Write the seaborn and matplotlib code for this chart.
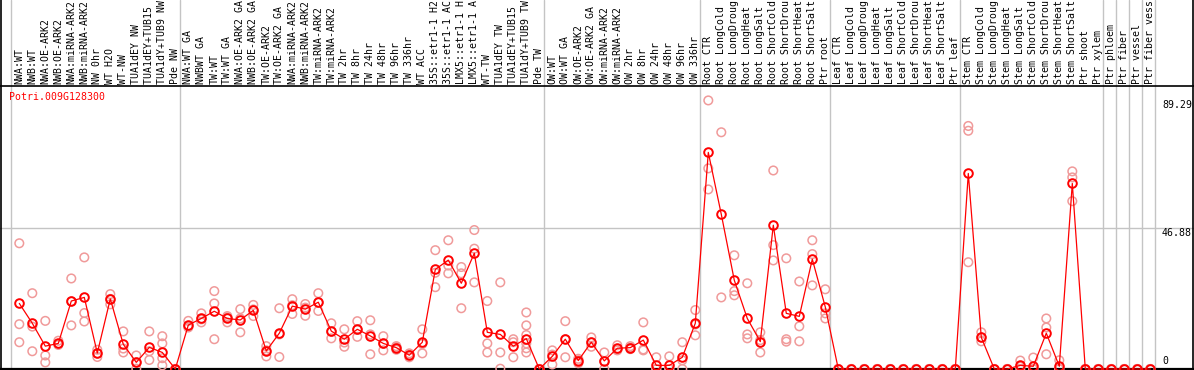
import numpy as np
import pandas as pd
import matplotlib
matplotlib.use("Agg")
import matplotlib.pyplot as plt
import seaborn as sns

gene = "Potri.009G128300"

samples = [
    "NWA:WT", "NWB:WT", "NWA:OE-ARK2", "NWB:OE-ARK2", "NWA:miRNA-ARK2", "NWB:miRNA-ARK2",
    "NW 0hr", "WT H2O", "WT-NW", "TUA1dEY NW", "TUA1dEY+TUB15 NW", "TUA1dY+TUB9 NW", "Pde NW",
    "NWA:WT GA", "NWBWT GA", "TW:WT", "TW:WT GA", "NWA:OE-ARK2 GA", "NWB:OE-ARK2 GA",
    "TW:OE-ARK2", "TW:OE-ARK2 GA", "NWA:miRNA-ARK2", "NWB:miRNA-ARK2", "TW:miRNA-ARK2",
    "TW:miRNA-ARK2", "TW 2hr", "TW 8hr", "TW 24hr", "TW 48hr", "TW 96hr", "TW 336hr", "WT ACC",
    "35S::etr1-1 H2O", "35S::etr1-1 ACC", "LMX5::etr1-1 H2O", "LMX5::etr1-1 ACC", "WT-TW",
    "TUA1dEY TW", "TUA1dEY+TUB15 TW", "TUA1dY+TUB9 TW", "Pde TW",
    "OW:WT", "OW:WT GA", "OW:OE-ARK2", "OW:OE-ARK2 GA", "OW:miRNA-ARK2", "OW:miRNA-ARK2",
    "OW 2hr", "OW 8hr", "OW 24hr", "OW 48hr", "OW 96hr", "OW 336hr",
    "Root CTR", "Root LongCold", "Root LongDrought", "Root LongHeat", "Root LongSalt",
    "Root ShortCold", "Root ShortDrought", "Root ShortHeat", "Root ShortSalt", "Ptr root",
    "Leaf CTR", "Leaf LongCold", "Leaf LongDrought", "Leaf LongHeat", "Leaf LongSalt",
    "Leaf ShortCold", "Leaf ShortDrought", "Leaf ShortHeat", "Leaf ShortSalt", "Ptr leaf",
    "Stem CTR", "Stem LongCold", "Stem LongDrought", "Stem LongHeat", "Stem LongSalt",
    "Stem ShortCold", "Stem ShortDrought", "Stem ShortHeat", "Stem ShortSalt", "Ptr shoot",
    "Ptr xylem", "Ptr phloem", "Ptr fiber", "Ptr vessel", "Ptr fiber vessel",
]

group_sizes = [13, 28, 12, 10, 10, 11, 1, 1, 1, 1]

means = [
    21.8, 15.2, 7.6, 8.5, 22.6, 23.8, 5.3, 23.3, 8.2, 2.2, 7.2, 5.5, 0,
    14.6, 16.8, 19.2, 16.8, 16.3, 19.5, 6.0, 11.9, 20.9, 19.9, 22.2, 12.6, 9.9, 13.2, 11.0,
    8.5, 7.1, 4.6, 8.9, 33.1, 36.2, 28.5, 38.5, 12.2, 11.5, 7.6, 10.1, 0,
    4.2, 9.9, 2.8, 8.9, 2.7, 6.9, 7.1, 9.6, 1.2, 1.2, 3.9, 15.2,
    72.0, 51.4, 29.5, 16.8, 9.1, 47.8, 18.5, 17.5, 36.5, 20.6,
    0, 0, 0, 0, 0, 0, 0, 0, 0, 0,
    65.0, 10.5, 0, 0, 1.2, 0.9, 11.9, 0.9, 61.7, 0, 0,
    0, 0, 0, 0,
]

replicates = [
    [41.8, 14.9, 8.9], [25.2, 14.1, 5.9], [16.0, 4.5, 2.2], [9.4, 8.3, 8.0],
    [30.1, 22.5, 14.5], [37.1, 18.6, 15.8], [6.4, 5.2, 4.0], [24.9, 23.3, 21.5],
    [12.5, 6.8, 5.5], [4.5, 2.2, 0.1], [12.5, 5.9, 3.0], [10.9, 8.5, 3.6, 1.2], [0, 0, 0],
    [16.0, 14.1, 13.8], [18.5, 16.5, 15.5], [25.9, 21.8, 9.9], [17.6, 17.2, 15.5],
    [19.9, 16.8, 12.2], [21.3, 19.8, 17.6], [7.6, 6.2, 4.2], [20.2, 11.5, 4.0],
    [23.2, 21.2, 18.3], [21.6, 20.4, 17.7], [25.2, 22.1, 19.3], [15.2, 12.4, 10.2],
    [13.2, 8.8, 7.4], [15.9, 13.0, 10.7], [16.2, 11.5, 4.9], [10.9, 8.4, 6.2],
    [7.6, 7.3, 6.4], [5.2, 4.7, 3.9], [13.2, 8.3, 5.2], [39.5, 32.0, 27.2],
    [42.8, 34.4, 31.8], [33.9, 31.8, 20.2], [46.2, 40.0, 28.8], [22.6, 8.5, 5.5],
    [28.8, 5.5, 0.1], [9.9, 8.9, 3.9], [18.8, 14.5, 11.3, 8.5, 6.9, 5.5], [0, 0, 0],
    [6.2, 4.8, 1.5], [15.9, 9.9, 3.9], [3.4, 2.9, 1.9], [10.5, 8.8, 7.4],
    [5.5, 2.6, 0], [7.9, 6.6, 6.2], [7.6, 7.1, 6.6], [15.5, 6.5, 6.2],
    [3.9, 0, 0], [4.2, 0, 0], [8.9, 2.9, 0], [19.6, 14.8, 11.2],
    [89.29, 66.7, 59.7], [78.7, 23.8], [37.8, 25.9, 24.5], [28.5, 11.5, 10.2],
    [12.2, 9.6, 5.5], [66.0, 41.2, 36.1], [36.8, 9.9, 9.1], [29.1, 14.2, 9.2],
    [42.8, 38.2, 27.8], [26.5, 18.5, 16.8],
    [0, 0, 0], [0, 0, 0], [0, 0, 0], [0, 0, 0], [0, 0, 0],
    [0, 0, 0], [0, 0, 0], [0, 0, 0], [0, 0, 0], [0, 0, 0],
    [80.8, 79.2, 35.5], [12.2, 10.5, 9.2], [0, 0, 0], [0, 0, 0], [2.8, 0.8, 0],
    [3.8, 0, 0], [16.8, 13.8, 4.9], [2.9, 0, 0], [65.7, 63.7, 55.8], [0, 0, 0], [0, 0, 0],
    [0, 0, 0], [0, 0, 0], [0, 0, 0], [0, 0, 0],
]

y_ticks = [89.29, 46.88, 0]

# the header row of the reference only shows the first 14 characters of a name
label_chars = 14

# ---------------------------------------------------------------------------
sns.set_theme(style="white")
plt.rcParams["font.family"] = ["DejaVu Sans Mono", "DejaVu Sans"]

W, H, DPI = 1194, 370, 100
fig = plt.figure(figsize=(W / DPI, H / DPI), dpi=DPI)
ax = fig.add_axes([0, 0, 1, 1])

# pixel mapping: x_px = 19.3 + 13*i ; y_px = 369 - 3.008*v
px_per_col = 13.0
x0_px = 19.3
px_per_unit = 3.008
y0_px = 369.0
ax.set_xlim(-x0_px / px_per_col, (W - x0_px) / px_per_col)
ax.set_ylim((y0_px - H) / px_per_unit, y0_px / px_per_unit)
ax.axis("off")

def px2x(p):
    return (p - x0_px) / px_per_col

def py2v(p):
    return (y0_px - p) / px_per_unit

n = len(samples)
idx = np.arange(n)

rep_x, rep_y = [], []
for i, reps in enumerate(replicates):
    for r in reps:
        rep_x.append(i)
        rep_y.append(r)
df_rep = pd.DataFrame({"x": rep_x, "value": rep_y})
df_mean = pd.DataFrame({"x": idx, "value": means})

grid_c = "#c4c4c4"
# group separators
starts = np.concatenate([[0], np.cumsum(group_sizes)])
for s in starts:
    ax.axvline(s - 0.64, color=grid_c, lw=1.0, zorder=0)
ax.axhline(y_ticks[1], color=grid_c, lw=1.0, zorder=0)

# frame
ax.axvline(px2x(1), color="black", lw=1.2, zorder=1)
ax.axvline(px2x(1193), color="black", lw=1.2, zorder=1)
ax.axhline(py2v(86), color="black", lw=1.2, zorder=1)
ax.axhline(0, color="black", lw=1.6, zorder=1)

sns.scatterplot(data=df_rep, x="x", y="value", ax=ax, marker="o", s=38,
                facecolors="none", edgecolor="#f09a9a", linewidth=1.1, zorder=2,
                legend=False)
sns.lineplot(data=df_mean, x="x", y="value", ax=ax, color="#ff0000", lw=0.9,
             marker="o", ms=6.2, mfc="none", mec="#ff0000", mew=1.4, zorder=3,
             legend=False)

# sample labels
label_v = py2v(84.5)
for i, lab in enumerate(samples):
    ax.text(i, label_v, lab[:label_chars], rotation=90, ha="center", va="bottom",
            fontsize=7.1, color="black", zorder=4)

# gene name
ax.text(px2x(9), py2v(92), gene, ha="left", va="top", fontsize=7.1,
        color="#ff0000", zorder=4)

# y tick labels
tx = px2x(1162)
ax.text(tx, y_ticks[0], f"{y_ticks[0]:.2f}", ha="left", va="top", fontsize=7.1, color="black")
ax.text(tx, y_ticks[1], f"{y_ticks[1]:.2f}", ha="left", va="top", fontsize=7.1, color="black")
ax.text(tx, py2v(366), "0", ha="left", va="bottom", fontsize=7.1, color="black")

fig.savefig("out.png", dpi=DPI, facecolor="white")
